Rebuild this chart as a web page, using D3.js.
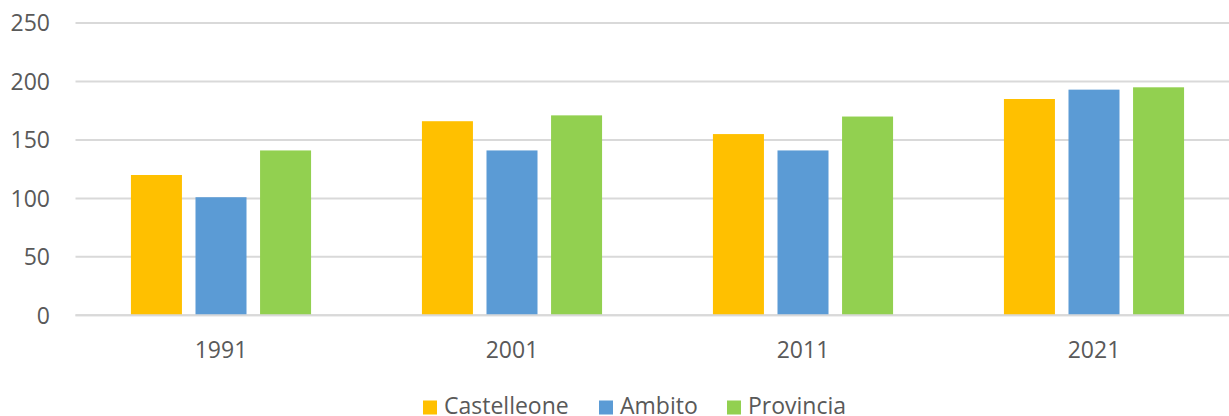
<!DOCTYPE html>
<html>
<head>
<meta charset="utf-8">
<script src="https://cdn.jsdelivr.net/npm/d3@7"></script>
<style>
  body { margin: 0; background: #fff; }
  svg text { font-family: "Open Sans", sans-serif; fill: #595959; }
</style>
</head>
<body>
<div id="chart"></div>
<script>
// data
const years = ["1991", "2001", "2011", "2021"];
const seriesNames = ["Castelleone", "Ambito", "Provincia"];
const castelleone = [120, 166, 155, 185];
const ambito = [101, 141, 141, 193];
const provincia = [141, 171, 170, 195];
const yTicks = [0, 50, 100, 150, 200, 250];
const colors = ["#FFC000", "#5B9BD5", "#92D050"];

const values = [castelleone, ambito, provincia];

const width = 1229, height = 416;
const svg = d3.select("#chart").append("svg")
    .attr("width", width)
    .attr("height", height);

// scales
let x0 = d3.scaleBand().domain(years).range([75.5, 1239.5])
    .paddingInner(0.381).paddingOuter(0.1905);
let x1 = d3.scaleBand().domain(seriesNames).range([0, x0.bandwidth()])
    .paddingInner(0.21).paddingOuter(0);
let y = d3.scaleLinear().domain([0, 250]).range([315.3, 23]);

// gridlines
svg.append("g")
    .selectAll("line")
    .data(yTicks)
    .enter().append("line")
    .attr("x1", 75.5)
    .attr("x2", width)
    .attr("y1", d => y(d))
    .attr("y2", d => y(d))
    .attr("stroke", "#d9d9d9")
    .attr("stroke-width", 2);

// y axis labels
svg.append("g")
    .selectAll("text")
    .data(yTicks)
    .enter().append("text")
    .attr("x", 50)
    .attr("y", d => y(d))
    .attr("dy", "0.36em")
    .attr("text-anchor", "end")
    .style("font-size", "23px")
    .text(d => d);

// bars
let groups = svg.append("g")
    .selectAll("g")
    .data(years)
    .enter().append("g")
    .attr("transform", d => "translate(" + x0(d) + ",0)");

groups.selectAll("rect")
    .data((d, i) => seriesNames.map((s, j) => ({ s: s, v: values[j][i], c: colors[j] })))
    .enter().append("rect")
    .attr("x", d => x1(d.s))
    .attr("width", x1.bandwidth())
    .attr("y", d => y(d.v))
    .attr("height", d => y(0) - y(d.v))
    .attr("fill", d => d.c);

// redraw the baseline on top of the bars
svg.append("line")
    .attr("x1", 75.5).attr("x2", width)
    .attr("y1", y(0)).attr("y2", y(0))
    .attr("stroke", "#d9d9d9")
    .attr("stroke-width", 2);

// x axis labels
svg.append("g")
    .selectAll("text")
    .data(years)
    .enter().append("text")
    .attr("x", d => x0(d) + x0.bandwidth() / 2)
    .attr("y", 358)
    .attr("text-anchor", "middle")
    .style("font-size", "23px")
    .text(d => d);

// legend
const legendX = [423, 599, 727];
let legend = svg.append("g")
    .selectAll("g")
    .data(seriesNames)
    .enter().append("g")
    .attr("transform", (d, i) => "translate(" + legendX[i] + ",0)");

legend.append("rect")
    .attr("x", 0).attr("y", 400.5)
    .attr("width", 14).attr("height", 14)
    .attr("fill", (d, i) => colors[i]);

legend.append("text")
    .attr("x", 21)
    .attr("y", 413.5)
    .style("font-size", "23px")
    .text(d => d);
</script>
</body>
</html>
